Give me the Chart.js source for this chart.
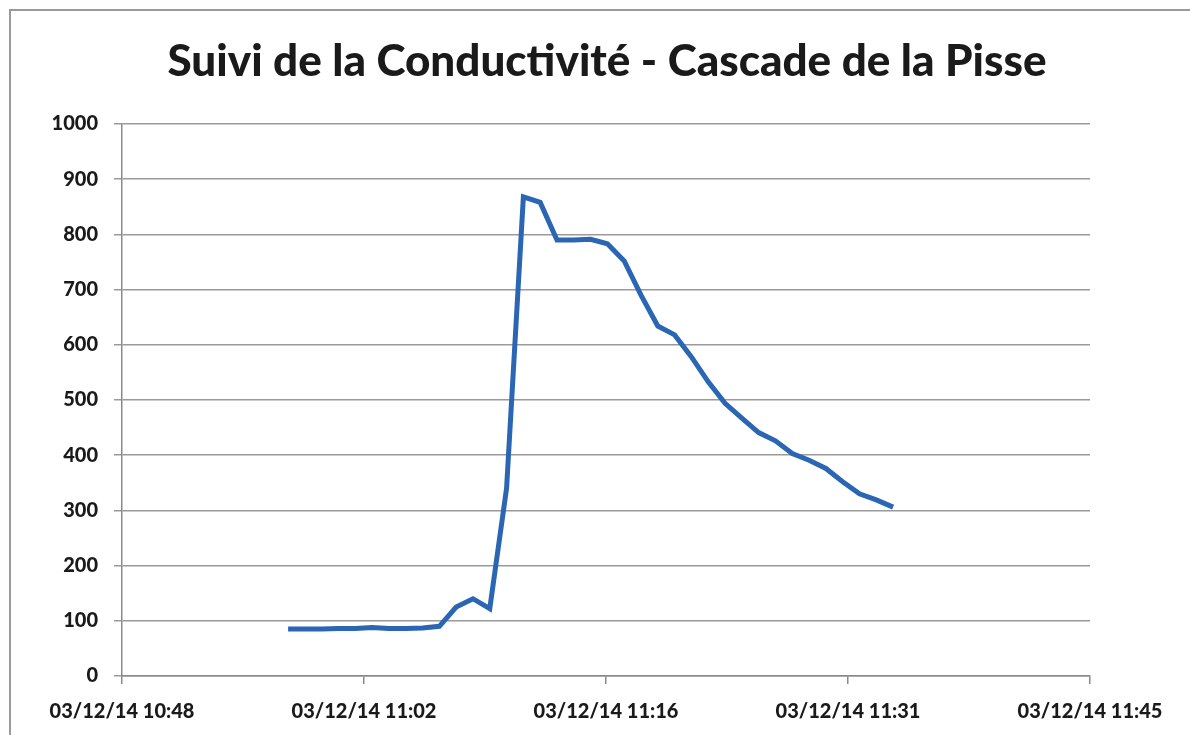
<!DOCTYPE html>
<html>
<head>
<meta charset="utf-8">
<script src="https://cdn.jsdelivr.net/npm/chart.js@4.4.0/dist/chart.umd.min.js"></script>
<style>
  html, body { margin: 0; padding: 0; background: #fff; }
  #wrap { position: relative; width: 1190px; height: 735px; overflow: hidden; }
  #frame { position: absolute; left: 9px; top: 9px; width: 1200px; height: 740px;
           border-top: 2px solid #9a9a9a; border-left: 2px solid #9a9a9a; }
  #title { position: absolute; left: 0; top: 33px; width: 1214px; text-align: center;
           font-family: Lato, sans-serif; font-weight: 900; font-size: 44px; color: #1a1a1a; }
  canvas { position: absolute; left: 0; top: 0; }
</style>
</head>
<body>
<div id="wrap">
  <div id="frame"></div>
  <canvas id="myChart" width="1190" height="735"></canvas>
  <div id="title">Suivi de la Conductivité - Cascade de la Pisse</div>
</div>
<script>
// sample times (hh:mm:ss, 03/12/14) and conductivity readings
var times = [
    "10:57:53", "10:58:53", "10:59:53", "11:00:53", "11:01:53", "11:02:53",
    "11:03:53", "11:04:53", "11:05:53", "11:06:53", "11:07:53", "11:08:53",
    "11:09:53", "11:10:53", "11:11:53", "11:12:53", "11:13:53", "11:14:53",
    "11:15:53", "11:16:53", "11:17:53", "11:18:53", "11:19:53", "11:20:53",
    "11:21:53", "11:22:53", "11:23:53", "11:24:53", "11:25:53", "11:26:53",
    "11:27:53", "11:28:53", "11:29:53", "11:30:53", "11:31:53", "11:32:53",
    "11:33:53"
];
var conductivity = [
    85, 85, 85, 86, 86, 88,
    86, 86, 87, 90, 125, 140,
    122, 340, 868, 858, 790, 790,
    791, 783, 752, 690, 634, 618,
    578, 533, 494, 467, 441, 426,
    403, 391, 376, 352, 330, 319,
    306
];
// axis: Excel date axis, major unit 0.01 day
var tickDays = [0.45, 0.46, 0.47, 0.48, 0.49];
var datePrefix = "03/12/14 ";

function toMinutes(t) {
    var p = t.split(":");
    return +p[0] * 60 + +p[1] + +p[2] / 60;
}
function minLabel(m) {
    var h = Math.floor(m / 60), mm = Math.floor(m % 60);
    return datePrefix + h + ":" + (mm < 10 ? "0" : "") + mm;
}

var points = times.map(function (t, i) {
    return {x: toMinutes(t), y: conductivity[i]};
});
var tickMinutes = tickDays.map(function (d) { return d * 1440; });

var fontTick = {family: "Lato, sans-serif", size: 20, weight: "900"};
var ctx = document.getElementById("myChart");

new Chart(ctx, {
    type: 'line',
    data: {
        datasets: [{
            data: points,
            borderColor: "#2a66b3",
            borderWidth: 5,
            pointRadius: 0,
            tension: 0,
            fill: false
        }]
    },
    options: {
        responsive: false,
        animation: false,
        layout: {padding: {left: 22, right: 100, top: 124, bottom: 9}},
        plugins: {legend: {display: false}, tooltip: {enabled: false}},
        scales: {
            x: {
                type: 'linear',
                min: tickMinutes[0],
                max: tickMinutes[tickMinutes.length - 1],
                afterBuildTicks: function (scale) {
                    scale.ticks = tickMinutes.map(function (v) { return {value: v}; });
                },
                afterFit: function (scale) { scale.height = 50; },
                ticks: {
                    font: fontTick, color: "#1a1a1a", padding: 16,
                    maxRotation: 0, autoSkip: false,
                    callback: function (v) { return minLabel(v); }
                },
                grid: {drawOnChartArea: false, drawTicks: true, tickLength: 8, color: "#8a8a8a", lineWidth: 1.5},
                border: {color: "#8a8a8a", width: 1.5}
            },
            y: {
                min: 0, max: 1000,
                afterFit: function (scale) { scale.width = 100; },
                ticks: {
                    stepSize: 100, font: fontTick, color: "#1a1a1a", padding: 16,
                    callback: function (v) { return String(v); }
                },
                grid: {color: "#9a9a9a", lineWidth: 1.5, tickLength: 8},
                border: {color: "#8a8a8a", width: 1.5}
            }
        }
    }
});
</script>
</body>
</html>
